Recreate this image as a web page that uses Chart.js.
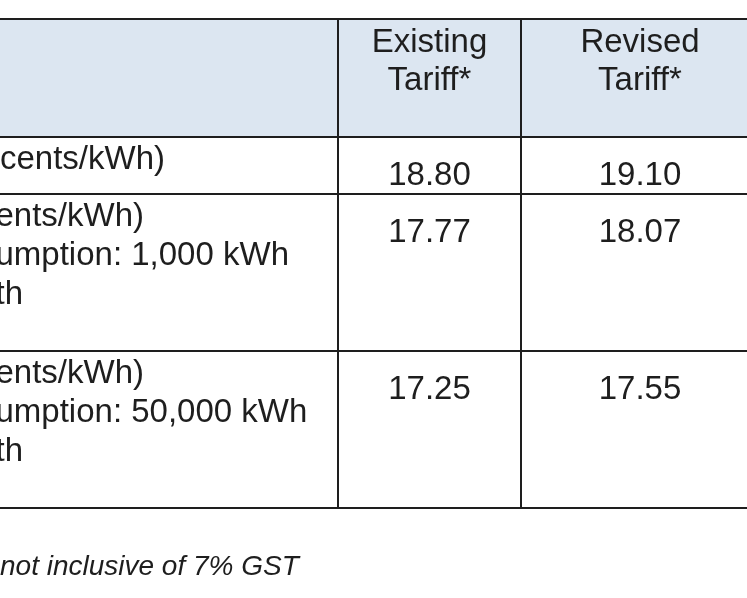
<!DOCTYPE html>
<html>
<head>
<meta charset="utf-8">
<script src="https://cdn.jsdelivr.net/npm/chart.js@4.4.0/dist/chart.umd.min.js"></script>
<style>
    html, body { margin: 0; padding: 0; background: #fff; }
</style>
</head>
<body>
<canvas id="tariff-table" width="747" height="598"></canvas>
<script>
// table content
const headerLines = [['Existing', 'Tariff*'], ['Revised', 'Tariff*']];
const rowLabels = [
    ['cents/kWh)'],
    ['ents/kWh)', 'umption: 1,000 kWh', 'th'],
    ['ents/kWh)', 'umption: 50,000 kWh', 'th']
];
const existingTariff = [18.80, 17.77, 17.25];
const revisedTariff = [19.10, 18.07, 17.55];
const footnote = 'not inclusive of 7% GST';

// layout, in scale units (the scales map 1 unit to 1 px)
const colEdges = [0, 338, 521, 759];
const rowEdges = [19, 137, 194, 351, 508];
const labelIndent = [0, -4.5, -4.5];
const lineGap = 39;
const fontFamily = "'Liberation Sans', Arial, sans-serif";
const inkColor = '#1e1e1e';

function colCenter(c) {
    return (colEdges[c] + colEdges[c + 1]) / 2;
}

const headerPoints = [];
headerLines.forEach((lines, c) => {
    lines.forEach((text, i) => {
        headerPoints.push({ x: colCenter(c + 1), y: rowEdges[0] + 33 + i * 38, text: text });
    });
});

const labelPoints = [];
rowLabels.forEach((lines, r) => {
    lines.forEach((text, i) => {
        labelPoints.push({ x: labelIndent[r], y: rowEdges[r + 1] + 32 + i * lineGap, text: text });
    });
});

const valuePoints = [];
[existingTariff, revisedTariff].forEach((series, c) => {
    series.forEach((v, r) => {
        valuePoints.push({ x: colCenter(c + 1), y: rowEdges[r + 1] + 48, text: v.toFixed(2) });
    });
});

const headerFill = {
    id: 'headerFill',
    beforeDraw(chart) {
        const ctx = chart.ctx;
        const xs = chart.scales.x, ys = chart.scales.y;
        ctx.save();
        ctx.fillStyle = '#fff';
        ctx.fillRect(0, 0, chart.width, chart.height);
        ctx.fillStyle = '#dce6f1';
        const x0 = xs.getPixelForValue(colEdges[0]);
        const x1 = xs.getPixelForValue(colEdges[colEdges.length - 1]);
        const y0 = ys.getPixelForValue(rowEdges[0]);
        const y1 = ys.getPixelForValue(rowEdges[1]);
        ctx.fillRect(x0, y0, x1 - x0, y1 - y0);
        ctx.restore();
    }
};

const cellText = {
    id: 'cellText',
    afterDatasetsDraw(chart) {
        const ctx = chart.ctx;
        ctx.save();
        chart.data.datasets.forEach((ds, i) => {
            const meta = chart.getDatasetMeta(i);
            ctx.font = ds.textFont;
            ctx.fillStyle = inkColor;
            ctx.textAlign = ds.textAlign;
            ctx.textBaseline = 'alphabetic';
            meta.data.forEach((el, j) => {
                ctx.fillText(ds.data[j].text, el.x, el.y);
            });
        });
        ctx.restore();
    }
};

const gridOpts = { color: inkColor, lineWidth: 2, drawTicks: false };

const tableChart = new Chart(
    document.getElementById('tariff-table'), {
        type: 'scatter',
        data: {
            datasets: [
                { label: 'header', data: headerPoints, textAlign: 'center', textFont: '33px ' + fontFamily },
                { label: 'labels', data: labelPoints, textAlign: 'left', textFont: '33px ' + fontFamily },
                { label: 'values', data: valuePoints, textAlign: 'center', textFont: '33px ' + fontFamily }
            ]
        },
        options: {
            responsive: false,
            animation: false,
            events: [],
            clip: false,
            elements: { point: { radius: 0, hoverRadius: 0 } },
            layout: { padding: { top: rowEdges[0], left: 0, right: 0, bottom: 0 } },
            scales: {
                x: {
                    type: 'linear',
                    min: 0,
                    max: 747,
                    afterBuildTicks: (scale) => {
                        scale.ticks = colEdges.slice(1, -1).map(v => ({ value: v }));
                    },
                    ticks: { display: false },
                    grid: gridOpts,
                    border: { display: false }
                },
                y: {
                    type: 'linear',
                    reverse: true,
                    min: rowEdges[0],
                    max: rowEdges[rowEdges.length - 1],
                    afterBuildTicks: (scale) => {
                        scale.ticks = rowEdges.map(v => ({ value: v }));
                    },
                    ticks: { display: false },
                    grid: gridOpts,
                    border: { display: false }
                }
            },
            plugins: {
                legend: { display: false },
                tooltip: { enabled: false },
                title: {
                    display: true,
                    text: footnote,
                    position: 'bottom',
                    align: 'start',
                    color: inkColor,
                    font: { family: fontFamily, size: 28, style: 'italic', weight: 'normal', lineHeight: 1.2 },
                    padding: { top: 42.5, bottom: 13.9 }
                }
            }
        },
        plugins: [headerFill, cellText]
    }
);
</script>
</body>
</html>
